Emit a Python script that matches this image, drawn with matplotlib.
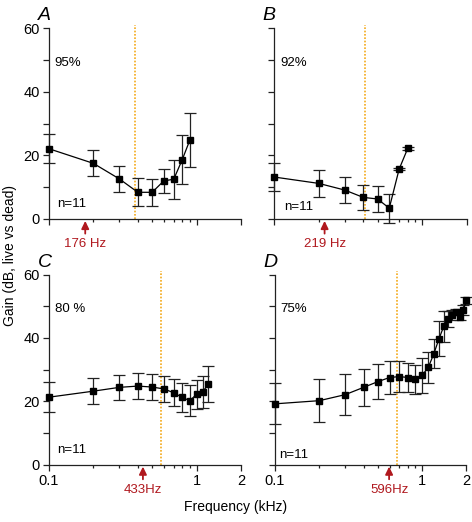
import matplotlib.pyplot as plt
from matplotlib.ticker import FixedLocator, NullFormatter

plt.rcParams['font.family'] = ['Liberation Sans', 'DejaVu Sans']

# panel A
freq_a = [0.1, 0.2, 0.3, 0.4, 0.5, 0.6, 0.7, 0.8, 0.9]
gain_a = [22.1, 17.5, 12.6, 8.4, 8.4, 12.0, 12.5, 18.7, 24.8]
err_a = [4.6, 4.1, 4.1, 4.4, 4.2, 3.8, 6.1, 7.8, 8.5]

# panel B
freq_b = [0.1, 0.2, 0.3, 0.4, 0.5, 0.6, 0.7, 0.8]
gain_b = [13.2, 11.2, 9.1, 6.8, 6.3, 3.4, 15.7, 22.2]
err_b = [4.4, 4.2, 4.0, 3.9, 4.1, 4.6, 0.4, 0.5]

# panel C
freq_c = [0.1, 0.2, 0.3, 0.4, 0.5, 0.6, 0.7, 0.8, 0.9, 1.0, 1.1, 1.2]
gain_c = [21.3, 23.2, 24.4, 24.8, 24.5, 23.9, 22.7, 21.2, 20.2, 22.2, 22.9, 25.5]
err_c = [4.8, 4.1, 4.0, 4.1, 4.2, 4.2, 4.3, 4.5, 4.9, 4.6, 5.0, 5.6]

# panel D
freq_d = [0.1, 0.2, 0.3, 0.4, 0.5, 0.6, 0.7, 0.8, 0.9, 1.0,
          1.1, 1.2, 1.3, 1.4, 1.5, 1.6, 1.7, 1.8, 1.9, 2.0]
gain_d = [19.2, 20.2, 22.1, 24.4, 26.2, 27.5, 27.8, 27.5, 27.0, 28.2,
          30.7, 35.0, 39.7, 43.6, 46.0, 47.3, 48.1, 46.7, 48.8, 51.8]
err_d = [6.5, 6.7, 6.4, 5.9, 5.5, 5.1, 4.8, 4.5, 4.6, 5.5,
         5.0, 4.5, 5.5, 5.0, 2.5, 1.5, 1.0, 1.0, 1.5, 1.0]

letters = ['A', 'B', 'C', 'D']
pct_labels = ['95%', '92%', '80 %', '75%']
cf_khz = [0.176, 0.219, 0.433, 0.596]
cf_labels = ['176 Hz', '219 Hz', '433Hz', '596Hz']
dotted_khz = [0.383, 0.412, 0.575, 0.67]
n_label = 'n=11'

red = '#b0181e'
orange = '#f4aa1c'

fig = plt.figure(figsize=(4.72, 5.22), dpi=100)
W, H = 472.0, 522.0
# axes boxes in pixels: left, x of 2 kHz, y of 60 dB, y of 0 dB
boxes = [(49, 241, 28.3, 219), (274.3, 466.5, 28.3, 219),
         (49, 241, 274.5, 464.7), (275, 466.5, 274.5, 464.7)]
data = [(freq_a, gain_a, err_a), (freq_b, gain_b, err_b),
        (freq_c, gain_c, err_c), (freq_d, gain_d, err_d)]
n_pos = [(0.042, 0.08), (0.05, 0.065), (0.042, 0.075), (0.02, 0.05)]

for i in range(4):
    x0, x1, ytop, ybot = boxes[i]
    ax = fig.add_axes([x0 / W, 1 - ybot / H, (x1 - x0) / W, (ybot - ytop) / H])
    f, g, e = data[i]
    ax.errorbar(f, g, yerr=e, fmt='s-', color='black', ecolor='#222222',
                elinewidth=0.9, capsize=4, capthick=0.9, lw=0.9, ms=4.2,
                clip_on=False, zorder=3)
    ax.plot([dotted_khz[i], dotted_khz[i]], [0, 61], ls=(0, (1, 1)),
            color=orange, lw=1.2, clip_on=False, zorder=2)

    ax.set_xscale('log')
    ax.set_xlim(0.1, 2)
    ax.set_ylim(0, 60)
    for s in ['top', 'right']:
        ax.spines[s].set_visible(False)
    for s in ['left', 'bottom']:
        ax.spines[s].set_linewidth(0.9)
        ax.spines[s].set_color('#222222')

    ax.xaxis.set_major_locator(FixedLocator([0.1, 1, 2]))
    ax.xaxis.set_minor_locator(FixedLocator([0.2, 0.3, 0.4, 0.5, 0.6, 0.7, 0.8, 0.9]))
    ax.xaxis.set_minor_formatter(NullFormatter())
    ax.yaxis.set_major_locator(FixedLocator([0, 20, 40, 60]))
    ax.yaxis.set_minor_locator(FixedLocator([10, 30, 50]))
    ax.tick_params(which='major', length=4.5, width=0.9, color='#222222',
                   labelsize=10.5, pad=2)
    ax.tick_params(which='minor', length=2.5, width=0.9, color='#222222')
    ax.tick_params(axis='y', which='minor', length=4.5)
    if i < 2:
        ax.set_xticklabels([])
    else:
        ax.set_xticklabels(['0.1', '1', '2'])
    if i % 2 == 1:
        ax.set_yticklabels([])
    ax.patch.set_alpha(0)

    ax.text(0.03, 0.82, pct_labels[i], transform=ax.transAxes, fontsize=9.5,
            va='center', ha='left')
    ax.text(n_pos[i][0], n_pos[i][1], n_label, transform=ax.transAxes,
            fontsize=9.5, va='center', ha='left')
    ax.text(-0.06, 1.065, letters[i], transform=ax.transAxes, fontsize=14,
            style='italic', va='center', ha='left')

    ax.annotate('', xy=(cf_khz[i], -0.6), xytext=(cf_khz[i], -4.6),
                xycoords='data', textcoords='data',
                arrowprops=dict(arrowstyle='-|>,head_width=0.22,head_length=0.45',
                                color=red, lw=1.3, shrinkA=0, shrinkB=0),
                annotation_clip=False)
    ax.text(cf_khz[i], -8.0, cf_labels[i], color=red, fontsize=9.5,
            ha='center', va='center')

fig.text(0.022, 0.51, 'Gain (dB, live vs dead)', rotation=90, fontsize=10,
         ha='center', va='center')
fig.text(0.5, 0.029, 'Frequency (kHz)', fontsize=10, ha='center', va='center')

fig.savefig('out.png', dpi=100)
